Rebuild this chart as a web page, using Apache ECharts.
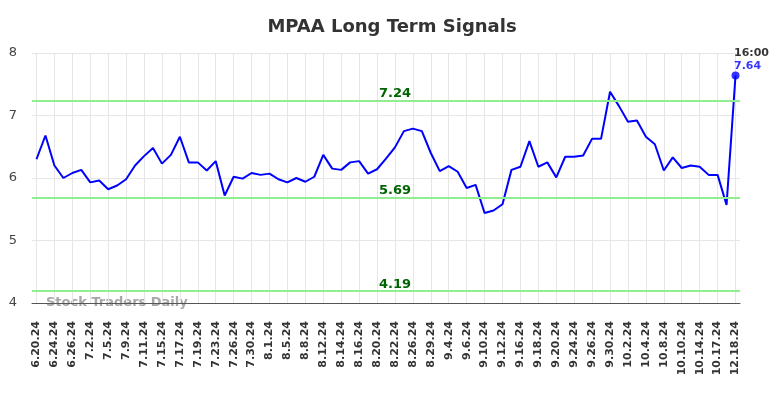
<!DOCTYPE html>
<html>
<head>
<meta charset="utf-8">
<script src="https://cdn.jsdelivr.net/npm/echarts@6/dist/echarts.min.js"></script>
<style>
  html, body { margin: 0; padding: 0; background: #fff; }
  #chart { width: 784px; height: 398px; }
</style>
</head>
<body>
<div id="chart"></div>
<script>
// trading days shown on the chart (every other one gets a label)
const dates = [
  '6.20.24', '6.21.24', '6.24.24', '6.25.24', '6.26.24', '6.27.24', '7.2.24', '7.3.24', '7.5.24', '7.8.24',
  '7.9.24', '7.10.24', '7.11.24', '7.12.24', '7.15.24', '7.16.24', '7.17.24', '7.18.24', '7.19.24', '7.22.24',
  '7.23.24', '7.24.24', '7.26.24', '7.29.24', '7.30.24', '7.31.24', '8.1.24', '8.2.24', '8.5.24', '8.6.24',
  '8.8.24', '8.9.24', '8.12.24', '8.13.24', '8.14.24', '8.15.24', '8.16.24', '8.19.24', '8.20.24', '8.21.24',
  '8.22.24', '8.23.24', '8.26.24', '8.27.24', '8.29.24', '8.30.24', '9.4.24', '9.5.24', '9.6.24', '9.9.24',
  '9.10.24', '9.11.24', '9.12.24', '9.13.24', '9.16.24', '9.17.24', '9.18.24', '9.19.24', '9.20.24', '9.23.24',
  '9.24.24', '9.25.24', '9.26.24', '9.27.24', '9.30.24', '10.1.24', '10.2.24', '10.3.24', '10.4.24', '10.7.24',
  '10.8.24', '10.9.24', '10.10.24', '10.11.24', '10.14.24', '10.15.24', '10.17.24', '10.18.24', '12.18.24'
];

const prices = [
  6.30, 6.68, 6.20, 6.00, 6.08, 6.13, 5.93, 5.96, 5.82, 5.88,
  5.98, 6.20, 6.35, 6.48, 6.23, 6.37, 6.66, 6.25, 6.25, 6.12,
  6.27, 5.72, 6.02, 5.99, 6.08, 6.05, 6.07, 5.98, 5.93, 6.00,
  5.94, 6.02, 6.37, 6.15, 6.13, 6.25, 6.27, 6.07, 6.14, 6.31,
  6.49, 6.75, 6.79, 6.75, 6.40, 6.11, 6.19, 6.10, 5.84, 5.89,
  5.44, 5.48, 5.58, 6.13, 6.18, 6.59, 6.18, 6.25, 6.01, 6.34,
  6.34, 6.36, 6.63, 6.63, 7.38, 7.15, 6.90, 6.92, 6.66, 6.54,
  6.12, 6.33, 6.16, 6.20, 6.18, 6.05, 6.05, 5.57, 7.64
];

const signalLevels = [7.24, 5.69, 4.19];
const lastTime = '16:00';

const yTicks = { min: 4, max: 8, interval: 1 };

const font = 'DejaVu Sans';
const lastIdx = prices.length - 1;

const chart = echarts.init(document.getElementById('chart'));
chart.setOption({
  animation: false,
  title: {
    text: 'MPAA Long Term Signals',
    left: 'center',
    top: 13,
    textStyle: { fontFamily: font, fontSize: 18, fontWeight: 'bold', color: '#333' }
  },
  grid: { left: 32, right: 44, top: 53, bottom: 95 },
  xAxis: {
    type: 'category',
    data: dates,
    boundaryGap: true,
    axisLine: { lineStyle: { color: '#555', width: 1 } },
    axisTick: { show: false },
    axisLabel: {
      interval: 1,
      rotate: 90,
      margin: 18,
      fontFamily: font,
      fontSize: 11,
      fontWeight: 'bold',
      color: '#333'
    },
    splitLine: {
      show: true,
      interval: 1,
      alignWithLabel: true,
      lineStyle: { color: '#e6e6e6', width: 1 }
    }
  },
  yAxis: {
    type: 'value',
    min: yTicks.min,
    max: yTicks.max,
    interval: yTicks.interval,
    axisLine: { show: false },
    axisTick: { show: false },
    axisLabel: { margin: 15, padding: [4, 0, 0, 0], fontFamily: font, fontSize: 13, color: '#444' },
    splitLine: { lineStyle: { color: '#e6e6e6', width: 1 } }
  },
  graphic: [{
    type: 'text',
    left: 46,
    top: 296,
    style: {
      text: 'Stock Traders Daily',
      font: 'bold 13px "DejaVu Sans"',
      fill: 'rgba(150,150,150,0.85)'
    }
  }],
  series: [
    {
      type: 'line',
      data: prices,
      showSymbol: false,
      lineStyle: { color: '#0000ff', width: 2 },
      itemStyle: { color: '#0000ff' },
      markLine: {
        silent: true,
        symbol: 'none',
        lineStyle: { color: '#90ee90', width: 2, type: 'solid' },
        label: {
          position: 'middle',
          distance: 0,
          offset: [9, 0],
          fontFamily: font,
          fontSize: 13,
          fontWeight: 'bold',
          color: '#006400',
          formatter: (p) => p.value.toFixed(2)
        },
        data: signalLevels.map((v) => ({ yAxis: v }))
      }
    },
    {
      type: 'scatter',
      data: [[dates[lastIdx], prices[lastIdx]]],
      symbolSize: 8,
      itemStyle: { color: '#0000ff' },
      label: {
        show: true,
        position: 'top',
        distance: 3,
        offset: [16, 4],
        fontFamily: font,
        formatter: () => '{t|' + lastTime + '}\n{v|' + prices[lastIdx].toFixed(2) + '}',
        rich: {
          t: { fontFamily: font, fontSize: 11, fontWeight: 'bold', color: '#000', lineHeight: 13, align: 'left' },
          v: { fontFamily: font, fontSize: 11, fontWeight: 'bold', color: '#0000ff', lineHeight: 13, align: 'left' }
        }
      }
    }
  ]
});
</script>
</body>
</html>
